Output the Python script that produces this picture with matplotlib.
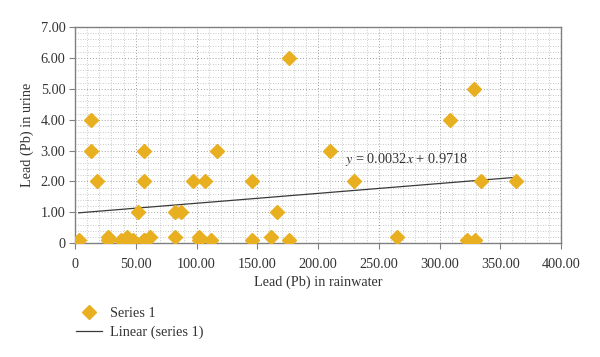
import numpy as np
import matplotlib.pyplot as plt
from matplotlib.ticker import MultipleLocator, FuncFormatter
from matplotlib.lines import Line2D

plt.rcParams['font.family'] = 'Liberation Serif'
plt.rcParams['mathtext.fontset'] = 'stix'

# Lead in rainwater (x) vs lead in urine (y)
rain = [3, 13, 13, 18, 27, 27, 38, 43, 48, 52, 57, 57, 57, 57, 62,
        82, 82, 87, 97, 102, 102, 107, 112, 117, 146, 146, 161, 166, 176, 176,
        210, 230, 265, 309, 323, 328, 329, 334, 363]
urine = [0.1, 4, 3, 2, 0.2, 0.1, 0.1, 0.2, 0.1, 1, 3, 2, 0.1, 0.1, 0.2,
         1, 0.2, 1, 2, 0.2, 0.1, 2, 0.1, 3, 2, 0.1, 0.2, 1, 6, 0.1,
         3, 2, 0.2, 4, 0.1, 5, 0.1, 2, 2]
slope, intercept = 0.0032, 0.9718

gold = '#E8B020'
grey = '#808080'
fs = 10.3

fig = plt.figure(figsize=(6, 3.57), dpi=100)
ax = fig.add_axes([0.125, 0.319, 0.81, 0.605])

ax.plot(rain, urine, 'D', color=gold, markersize=7.5, zorder=3)
xl = np.array([min(rain), max(rain)])
ax.plot(xl, slope * xl + intercept, color='#3a3a3a', linewidth=0.9, zorder=2)

ax.set_xlim(0, 400)
ax.set_ylim(0, 7)
ax.xaxis.set_major_locator(MultipleLocator(50))
ax.yaxis.set_major_locator(MultipleLocator(1))
ax.xaxis.set_minor_locator(MultipleLocator(10))
ax.yaxis.set_minor_locator(MultipleLocator(0.2))
fmt = FuncFormatter(lambda v, p: '0' if v == 0 else f'{v:.2f}')
ax.xaxis.set_major_formatter(fmt)
ax.yaxis.set_major_formatter(fmt)

ax.grid(which='minor', color='#b8b8b8', linestyle=(0, (1, 2)), linewidth=0.6)
ax.grid(which='major', color='#a0a0a0', linestyle=(0, (1, 2)), linewidth=0.7)

for s in ax.spines.values():
    s.set_color(grey)
    s.set_linewidth(1.0)
ax.tick_params(which='major', direction='out', length=4, color=grey,
               labelsize=fs, labelcolor='#333333', pad=3)
ax.tick_params(which='minor', length=0)
ax.tick_params(axis='x', pad=7)

ax.set_xlabel('Lead (Pb) in rainwater', fontsize=fs, color='#333333', labelpad=3)
ax.set_ylabel('Lead (Pb) in urine', fontsize=fs, color='#333333', labelpad=5)

ax.text(222, 2.6, r'$y$ = 0.0032$x$ + 0.9718', fontsize=fs, color='#333333')

handles = [Line2D([], [], marker='D', linestyle='none', color=gold, markersize=7),
           Line2D([], [], color='#3a3a3a', linewidth=0.9)]
fig.legend(handles, ['Series 1', 'Linear (series 1)'], loc='upper left',
           bbox_to_anchor=(0.105, 0.175), frameon=False, fontsize=fs,
           handlelength=1.8, labelspacing=0.35, handletextpad=0.6,
           labelcolor='#333333')

fig.savefig('out.png', dpi=100)
